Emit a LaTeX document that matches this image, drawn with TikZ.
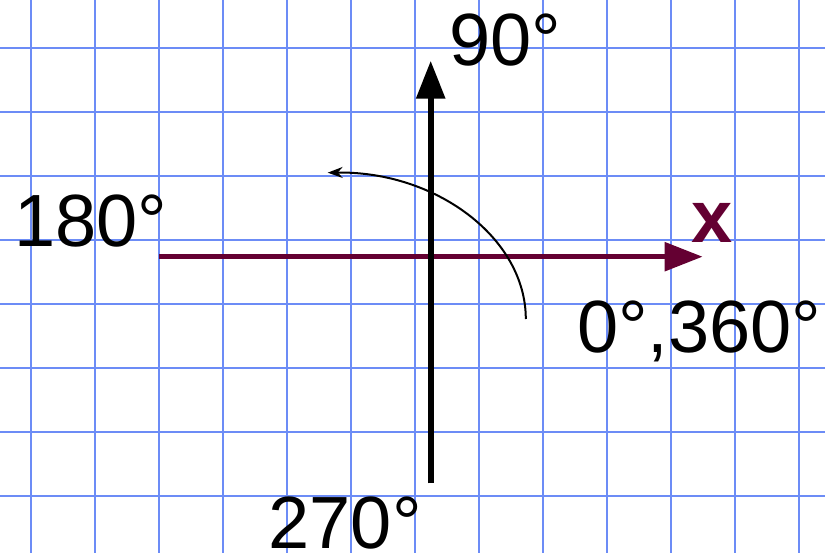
\documentclass[tikz,border=0pt]{standalone}
\usepackage{fontspec}
\setmainfont{Liberation Sans}
\usetikzlibrary{arrows.meta}
\definecolor{gridblue}{RGB}{108,140,246}
\definecolor{maroon}{RGB}{100,0,50}
\begin{document}
\begin{tikzpicture}[x=1pt,y=-1pt,
  gridline/.style={gridblue,line width=2.2pt},
  lbl/.style={inner sep=0pt,anchor=base west,font=\fontsize{74}{90}\selectfont},
  axisy/.style={line width=6pt,-{Triangle[length=38pt,width=28pt]}},
  axisx/.style={maroon,line width=5.5pt,-{Triangle[length=38pt,width=28pt]}},
  turn/.style={line width=2pt,-{Stealth[length=15pt,width=11pt,inset=5pt]}}]
\useasboundingbox (0,0) rectangle (825,553);
\fill[white] (0,0) rectangle (825,553);
\foreach \k in {0,...,12}{\draw[gridline] ({31+64*\k},0) -- ({31+64*\k},553);}
\foreach \k in {0,...,7}{\draw[gridline] (0,{47.7+64*\k}) -- (825,{47.7+64*\k});}
\coordinate (ybot) at (430.7,483.3);
\coordinate (ytop) at (430.7,60.7);
\coordinate (xl) at (159,256.7);
\coordinate (xr) at (702.7,256.7);
\coordinate (ts) at (525.8,319);
\coordinate (te) at (327.7,172.7);
\draw[axisx] (xl) -- (xr);
\draw[axisy] (ybot) -- (ytop);
\draw[turn] (ts) .. controls (525.8,238) and (436,171) .. (te);
\node[lbl] (l90) at (449,66) {90°};
\node[lbl] (l180) at (14,246.7) {180°};
\node[lbl] (l270) at (268.5,548.3) {270°};
\node[lbl] (l0) at (577,352.7) {0°,360°};
\node[lbl,text=maroon,font=\fontsize{74}{90}\selectfont\bfseries] (lx) at (691,242.7) {x};
\end{tikzpicture}
\end{document}
